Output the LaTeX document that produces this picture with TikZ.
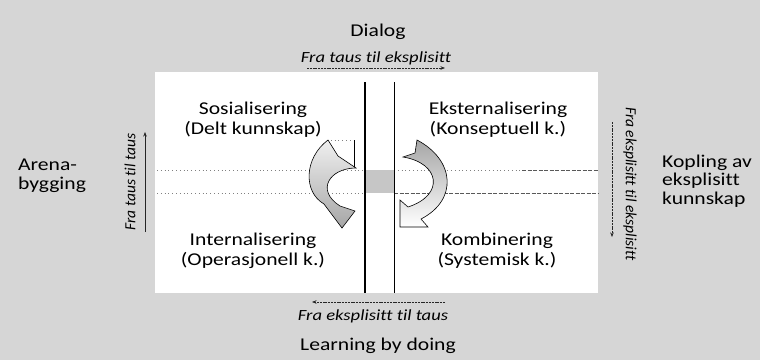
\documentclass[tikz,border=0pt]{standalone}
\usepackage{fontspec}
\setmainfont{Carlito}[FakeStretch=1.2, Ligatures=NoCommon]
\newfontfamily\vfont{Carlito}[Ligatures=NoCommon]
\usetikzlibrary{arrows.meta}
\definecolor{bg}{RGB}{214,214,214}
\begin{document}
\begin{tikzpicture}[x=1pt,y=-1pt,
  lbl/.style={font=\fontsize{18}{20}\selectfont, align=center, inner sep=0pt},
  side/.style={font=\fontsize{18}{18.5}\selectfont, align=left, inner sep=0pt, anchor=west},
  ital/.style={font=\fontsize{15.5}{17}\selectfont\itshape, inner sep=0pt},
  vital/.style={font=\vfont\fontsize{15.5}{17}\selectfont\itshape, inner sep=0pt},
  flow/.style={-{Stealth[length=4.5pt,width=3.5pt]}, line width=0.6pt, black!85},
  dflow/.style={flow, dash pattern=on 2pt off 0.8pt},
  dotl/.style={gray, line width=0.7pt, dash pattern=on 0.8pt off 3pt},
  dashl/.style={gray!70!black, line width=0.7pt, dash pattern=on 4pt off 1.5pt},
  axis/.style={black, line width=1.3pt},
  curvearrow/.style={draw=black, line width=0.6pt}
]
\useasboundingbox (0,0) rectangle (760,360);
% background
\fill[bg] (0,0) rectangle (760,360);
\fill[white] (155,72) rectangle (598,293);

% horizontal dotted guide lines
\coordinate (h1a) at (157,170); \coordinate (h1b) at (365,170);
\coordinate (h1c) at (394,170); \coordinate (h1d) at (522,170); \coordinate (h1e) at (598,170);
\coordinate (h2a) at (157,193); \coordinate (h2b) at (365,193);
\coordinate (h2c) at (394,193); \coordinate (h2e) at (598,193);
\draw[dotl] (h1a) -- (h1b);
\draw[dotl] (h1c) -- (h1d);
\draw[dashl] (h1d) -- (h1e);
\draw[dotl] (h2a) -- (h2b);
\draw[dashl] (h2c) -- (h2e);

% centre square
\fill[gray!45] (365,170) rectangle (394,193);

% vertical axis lines
\coordinate (v1t) at (365,82); \coordinate (v1b) at (365,293);
\coordinate (v2t) at (394,82); \coordinate (v2b) at (394,293);
\draw[axis] (v1t) -- (v1b);
\draw[black, line width=0.8pt] (v2t) -- (v2b);

% small marker lines near Sosialisering
\coordinate (m1) at (327,140); \coordinate (m2) at (354,140); \coordinate (m3) at (354,168);
\draw[dotl] (m1) -- (m2);
\draw[black, line width=0.6pt] (m2) -- (m3);

% curved arrows
\draw[curvearrow, top color=gray!12, bottom color=gray!70]
  (328,140) -- (338,156) -- (356,168)
  .. controls (330,168) and (315,190) .. (340,206)
  -- (355,211) -- (342,228) -- (324,204)
  .. controls (303,192) and (304,158) .. (328,140) -- cycle;
\draw[curvearrow, top color=gray!70, bottom color=white]
  (417,140) .. controls (455,160) and (458,200) .. (421,219)
  -- (428,227) -- (400,227) -- (400,200) -- (408,207)
  .. controls (445,195) and (440,163) .. (403,157)
  -- (415,153) -- cycle;

% quadrant labels
\node[lbl] (sos) at (253,120) {Sosialisering\\(Delt kunnskap)};
\node[lbl] (eks) at (498,120) {Eksternalisering\\(Konseptuell k.)};
\node[lbl] (int) at (253,251) {Internalisering\\(Operasjonell k.)};
\node[lbl] (kom) at (497,251) {Kombinering\\(Systemisk k.)};

% top and bottom
\node[lbl] (dialog) at (378,32) {Dialog};
\node[ital] (ftte) at (376,58) {Fra taus til eksplisitt};
\coordinate (ta) at (307,68); \coordinate (tb) at (445,68);
\draw[dflow] (ta) -- (tb);

\coordinate (ba) at (445,302); \coordinate (bb) at (312,302);
\draw[dflow] (ba) -- (bb);
\node[ital] (fett) at (373,316) {Fra eksplisitt til taus};
\node[lbl] (lbd) at (378,346) {Learning by doing};

% left side
\node[side] (arena) at (18,176) {Arena-\\bygging};
\node[vital, rotate=90] (fttt) at (130,182) {Fra taus til taus};
\coordinate (la) at (145,232); \coordinate (lb) at (145,132);
\draw[flow] (la) -- (lb);

% right side
\node[vital, rotate=-90] (fete) at (630,184) {Fra eksplisitt til eksplisitt};
\coordinate (ra) at (612,122); \coordinate (rb) at (612,237);
\draw[dflow] (ra) -- (rb);
\node[side] (kopl) at (662,181) {Kopling av\\eksplisitt\\kunnskap};
\end{tikzpicture}
\end{document}
